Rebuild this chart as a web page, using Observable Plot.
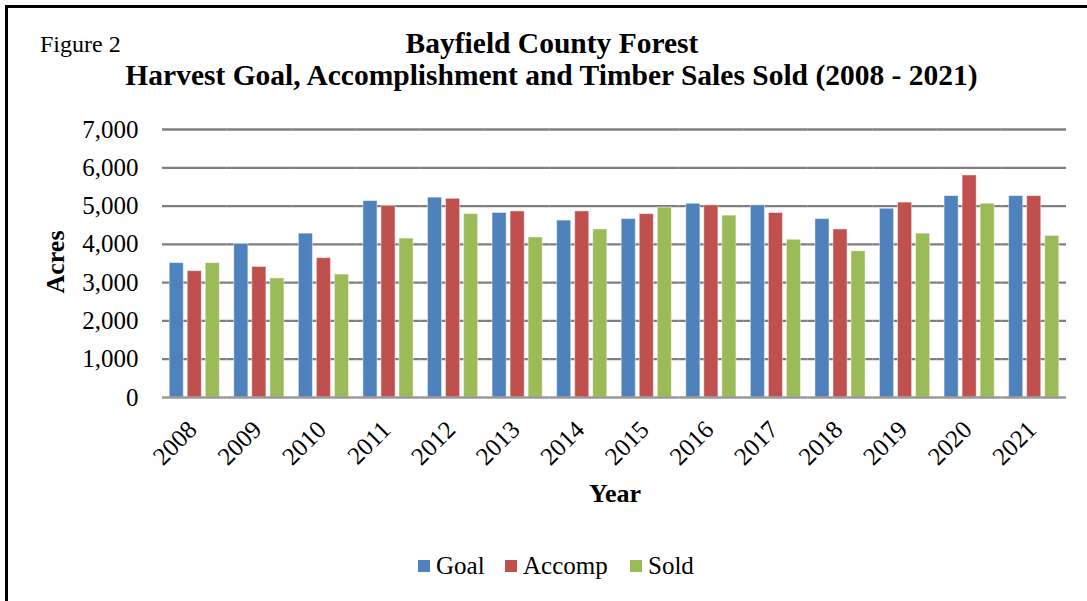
<!DOCTYPE html>
<html>
<head>
<meta charset="utf-8">
<script src="https://cdn.jsdelivr.net/npm/d3@7"></script>
<script src="https://cdn.jsdelivr.net/npm/@observablehq/plot@0.6"></script>
<style>
  html, body { margin: 0; padding: 0; background: #fff; }
  #wrap { position: relative; width: 1087px; height: 601px; overflow: hidden; font-family: "Liberation Serif", "Times New Roman", serif; color: #000; }
  .abs { position: absolute; white-space: nowrap; }
  #chart { position: absolute; left: 0; top: 110px; }
  .sw { position: absolute; width: 12px; height: 12px; }
</style>
</head>
<body>
<div id="wrap">
  <div class="abs" style="left:5px;top:5px;width:1082px;height:3px;background:#000;"></div>
  <div class="abs" style="left:5px;top:5px;width:3px;height:596px;background:#000;"></div>
  <div class="abs" style="left:40px;top:32px;font-size:24px;line-height:24px;">Figure 2</div>
  <div class="abs" style="left:0;width:1104px;top:29px;font-size:29.5px;line-height:29.5px;font-weight:bold;text-align:center;">Bayfield County Forest</div>
  <div class="abs" style="left:0;width:1103px;top:61px;font-size:29.5px;line-height:29.5px;font-weight:bold;text-align:center;">Harvest Goal, Accomplishment and Timber Sales Sold (2008 - 2021)</div>
  <div id="chart"></div>
  <div class="abs" style="left:6px;top:249px;width:100px;text-align:center;font-size:26px;line-height:26px;font-weight:bold;transform:rotate(-90deg);">Acres</div>
  <div class="abs" style="left:515px;width:200px;top:481px;text-align:center;font-size:26px;line-height:26px;font-weight:bold;">Year</div>
  <div id="legend"></div>
</div>
<script>
const years = ["2008","2009","2010","2011","2012","2013","2014","2015","2016","2017","2018","2019","2020","2021"];
const seriesNames = ["Goal","Accomp","Sold"];
const goal   = [3510,4010,4280,5130,5220,4820,4620,4660,5060,5020,4660,4930,5260,5260];
const accomp = [3300,3410,3640,5000,5190,4860,4860,4790,5020,4820,4390,5090,5800,5260];
const sold   = [3510,3110,3210,4150,4790,4180,4390,4960,4750,4120,3820,4280,5060,4220];
const colors = ["#4F81BD","#C0504D","#9BBB59"];
const yTicks = [0,1000,2000,3000,4000,5000,6000,7000];

const seriesValues = [goal, accomp, sold];
const data = [];
years.forEach((y, i) => {
  seriesNames.forEach((s, j) => data.push({year: y, series: s, value: seriesValues[j][i]}));
});

const chart = Plot.plot({
  width: 1087,
  height: 410,
  marginLeft: 162,
  marginRight: 21,
  marginTop: 19,
  marginBottom: 123,
  style: {fontFamily: "'Liberation Serif', 'Times New Roman', serif", fontSize: "25px", color: "#000", background: "transparent", overflow: "visible"},
  fx: {domain: years, padding: 0, round: false, label: null},
  x: {domain: seriesNames, paddingInner: 0.22, paddingOuter: 0.4, round: false, axis: null},
  y: {domain: [0, 7000], label: null},
  color: {domain: seriesNames, range: colors},
  marks: [
    Plot.ruleY(yTicks.filter(d => d > 0), {stroke: "#7f7f7f", strokeWidth: 2.3}),
    Plot.barY(data, {fx: "year", x: "series", y: "value", fill: "series", stroke: "#ffffff", strokeOpacity: 0.45, strokeWidth: 1}),
    Plot.ruleY([0], {stroke: "#999999", strokeWidth: 2.6}),
    Plot.axisY({ticks: yTicks, tickFormat: d3.format(","), tickSize: 0, tickPadding: 24, fontSize: 25, label: null}),
    Plot.axisFx({anchor: "bottom", tickRotate: -45, tickSize: 0, tickPadding: 28, dx: -2, fontSize: 25, label: null})
  ]
});
document.getElementById("chart").appendChild(chart);

// legend
const legend = document.getElementById("legend");
const legendX = [418, 505, 630];
seriesNames.forEach((s, i) => {
  const sw = document.createElement("div");
  sw.className = "sw";
  sw.style.left = legendX[i] + "px";
  sw.style.top = "560px";
  sw.style.background = colors[i];
  legend.appendChild(sw);
  const t = document.createElement("div");
  t.className = "abs";
  t.style.left = (legendX[i] + 18) + "px";
  t.style.top = "553px";
  t.style.fontSize = "25px";
  t.style.lineHeight = "25px";
  t.textContent = s;
  legend.appendChild(t);
});
</script>
</body>
</html>
